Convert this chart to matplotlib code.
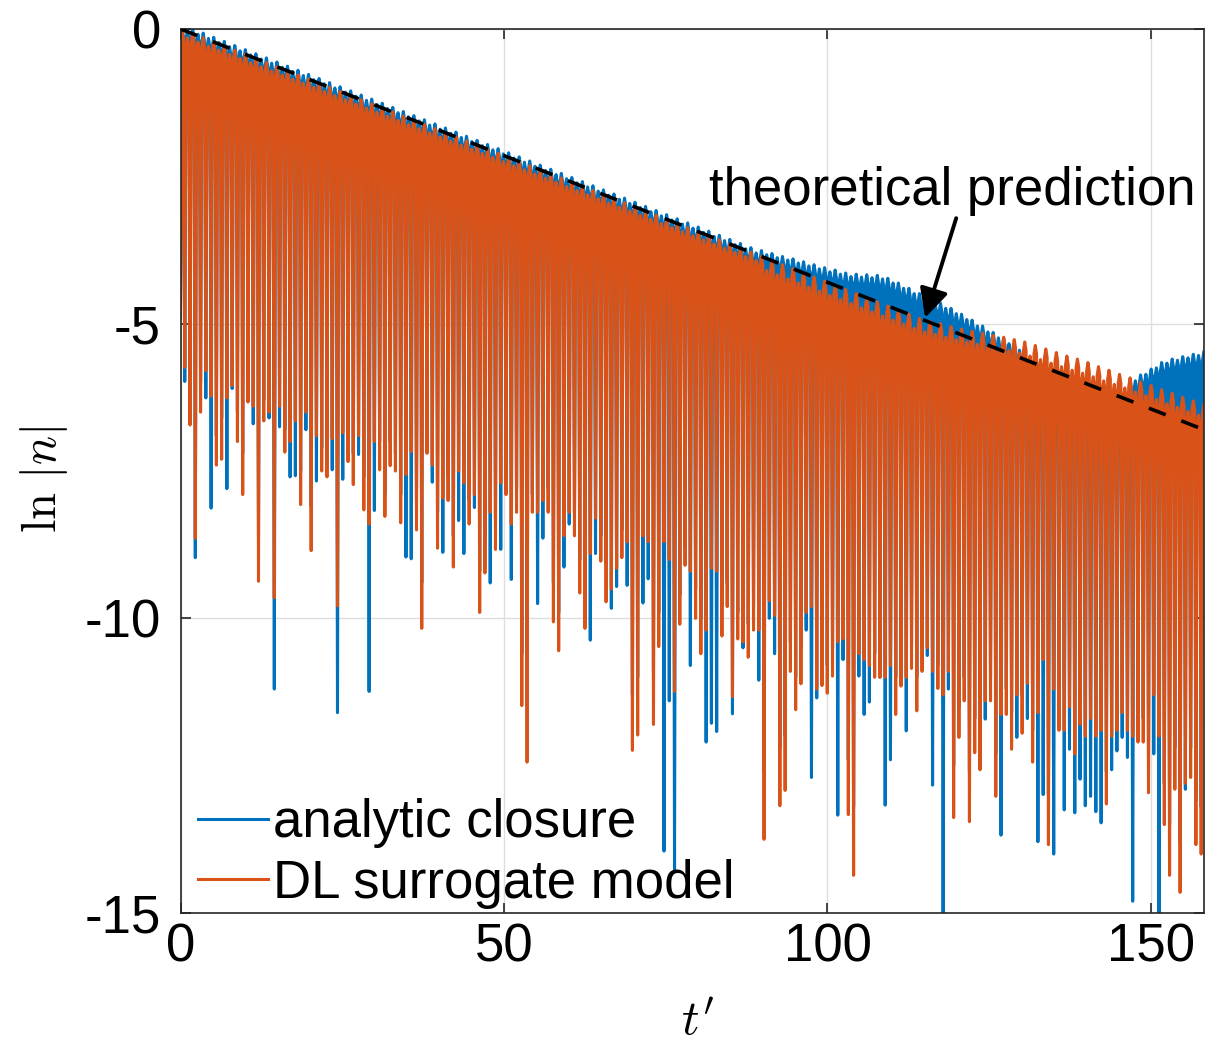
import numpy as np
import matplotlib
matplotlib.use("Agg")
import matplotlib.pyplot as plt

plt.rcParams["font.family"] = ["Liberation Sans", "DejaVu Sans"]
plt.rcParams["mathtext.fontset"] = "cm"
plt.rcParams["axes.unicode_minus"] = False

# zeros of n: first one and spacing between them
t_first_dip = 0.66
dip_step = 0.814
t_end = 158.2

x_ticks = [0, 50, 100, 150]
y_ticks = [-15, -10, -5, 0]
y_tick_labels = ["-15", "-10", "-5", "0"]

# dashed theory line, end points
theory_t = [0.0, 158.2]
theory_ln = [0.0, -6.80]

# analytic closure: value at t=0, local maxima between zeros, minima at zeros
analytic_start = -4.90
analytic_tops = [
    0.00, -0.02, 0.00, -0.09, -0.07, -0.16, -0.14, -0.23, -0.21, -0.30,
    -0.28, -0.37, -0.35, -0.44, -0.42, -0.51, -0.49, -0.58, -0.56, -0.65,
    -0.63, -0.72, -0.70, -0.79, -0.77, -0.86, -0.84, -0.93, -0.91, -1.00,
    -0.98, -1.07, -1.05, -1.14, -1.12, -1.21, -1.19, -1.28, -1.26, -1.35,
    -1.33, -1.42, -1.40, -1.49, -1.47, -1.56, -1.54, -1.63, -1.61, -1.70,
    -1.68, -1.77, -1.75, -1.84, -1.82, -1.91, -1.89, -1.98, -1.96, -2.05,
    -2.03, -2.12, -2.10, -2.19, -2.17, -2.26, -2.24, -2.33, -2.31, -2.40,
    -2.38, -2.47, -2.45, -2.54, -2.52, -2.61, -2.59, -2.68, -2.66, -2.75,
    -2.73, -2.82, -2.80, -2.89, -2.87, -2.96, -2.94, -3.03, -3.01, -3.10,
    -3.08, -3.17, -3.15, -3.24, -3.22, -3.31, -3.29, -3.38, -3.36, -3.45,
    -3.43, -3.52, -3.50, -3.59, -3.57, -3.66, -3.64, -3.73, -3.71, -3.80,
    -3.76, -3.83, -3.81, -3.88, -3.86, -3.92, -3.90, -3.97, -3.95, -4.02,
    -4.00, -4.07, -4.05, -4.12, -4.09, -4.16, -4.14, -4.20, -4.16, -4.21,
    -4.17, -4.22, -4.18, -4.24, -4.23, -4.31, -4.31, -4.40, -4.40, -4.49,
    -4.49, -4.57, -4.57, -4.66, -4.65, -4.74, -4.74, -4.83, -4.84, -4.93,
    -4.94, -5.04, -5.04, -5.14, -5.15, -5.24, -5.25, -5.34, -5.35, -5.45,
    -5.49, -5.57, -5.56, -5.64, -5.63, -5.71, -5.70, -5.78, -5.77, -5.85,
    -5.84, -5.92, -5.91, -5.99, -5.98, -6.06, -6.05, -6.13, -6.12, -6.20,
    -6.03, -5.97, -5.87, -5.86, -5.77, -5.75, -5.66, -5.67, -5.60, -5.62,
    -5.56, -5.58, -5.52, -5.54, -5.48,
]
analytic_dips = [
    -5.98, -6.20, -8.97, -6.00, -6.26, -8.13, -6.90, -6.60, -7.80, -6.10,
    -6.50, -7.20, -6.00, -6.70, -8.60, -6.30, -6.60, -11.20, -6.75, -6.80,
    -7.60, -7.58, -7.50, -6.80, -8.10, -7.67, -7.10, -7.00, -7.48, -11.60,
    -7.64, -6.90, -7.20, -7.22, -7.60, -11.24, -8.17, -7.00, -7.90, -7.00,
    -7.20, -7.90, -8.96, -8.99, -8.00, -9.40, -7.00, -7.69, -8.20, -8.88,
    -7.60, -8.60, -8.34, -8.90, -8.00, -8.12, -9.20, -8.70, -9.40, -8.30,
    -8.83, -7.60, -9.34, -7.80, -10.60, -11.50, -7.90, -9.75, -8.64, -7.80,
    -9.40, -9.90, -9.13, -8.40, -8.20, -9.00, -9.60, -10.37, -8.90, -8.60,
    -9.10, -9.83, -9.46, -8.50, -9.44, -11.30, -11.00, -9.74, -9.33, -10.90,
    -9.90, -13.95, -11.40, -14.27, -9.60, -8.80, -10.80, -9.50, -10.00, -12.10,
    -11.78, -11.92, -9.80, -9.40, -11.62, -9.90, -10.50, -10.10, -9.80, -11.05,
    -12.60, -10.00, -10.60, -12.20, -12.00, -10.40, -11.00, -10.50, -10.20, -12.70,
    -11.35, -11.00, -10.80, -10.50, -13.34, -10.70, -12.40, -13.20, -10.98, -11.63,
    -11.42, -10.60, -11.00, -13.17, -12.40, -11.00, -10.70, -11.91, -10.40, -11.00,
    -10.50, -10.63, -12.83, -10.80, -15.30, -11.20, -12.50, -11.50, -11.00, -12.60,
    -11.70, -11.90, -11.71, -11.00, -12.30, -13.68, -11.20, -11.60, -12.02, -11.30,
    -11.70, -11.90, -13.79, -12.99, -13.00, -14.00, -11.50, -13.25, -12.22, -13.30,
    -12.73, -13.18, -13.02, -13.28, -13.47, -12.60, -12.57, -12.25, -12.02, -12.36,
    -14.80, -11.60, -11.70, -12.30, -12.30, -15.30, -12.80, -13.50, -12.20, -13.80,
    -12.90, -12.20, -13.10, -13.20,
]

# DL surrogate model
dl_start = -4.85
dl_tops = [
    -0.01, -0.15, -0.08, -0.22, -0.15, -0.29, -0.22, -0.36, -0.29, -0.43,
    -0.36, -0.50, -0.43, -0.57, -0.50, -0.64, -0.57, -0.71, -0.64, -0.78,
    -0.71, -0.85, -0.78, -0.92, -0.85, -0.99, -0.92, -1.06, -0.99, -1.13,
    -1.06, -1.20, -1.13, -1.27, -1.20, -1.34, -1.27, -1.41, -1.34, -1.48,
    -1.41, -1.55, -1.48, -1.62, -1.55, -1.69, -1.62, -1.76, -1.69, -1.83,
    -1.76, -1.90, -1.83, -1.97, -1.90, -2.04, -1.97, -2.11, -2.04, -2.18,
    -2.11, -2.25, -2.18, -2.32, -2.25, -2.39, -2.32, -2.46, -2.39, -2.53,
    -2.46, -2.60, -2.53, -2.67, -2.60, -2.74, -2.67, -2.81, -2.74, -2.88,
    -2.81, -2.95, -2.88, -3.02, -2.95, -3.09, -3.02, -3.16, -3.09, -3.23,
    -3.16, -3.30, -3.23, -3.37, -3.30, -3.44, -3.37, -3.51, -3.44, -3.58,
    -3.51, -3.65, -3.58, -3.72, -3.65, -3.79, -3.72, -3.86, -3.79, -3.93,
    -3.86, -4.10, -3.93, -4.17, -4.00, -4.24, -4.07, -4.31, -4.14, -4.38,
    -4.21, -4.45, -4.28, -4.52, -4.35, -4.59, -4.42, -4.66, -4.49, -4.73,
    -4.56, -4.80, -4.63, -4.87, -4.70, -4.94, -4.77, -5.01, -4.84, -5.08,
    -4.91, -5.14, -4.96, -5.18, -5.00, -5.23, -5.05, -5.27, -5.09, -5.31,
    -5.13, -5.35, -5.16, -5.39, -5.20, -5.42, -5.23, -5.46, -5.27, -5.50,
    -5.31, -5.55, -5.37, -5.61, -5.43, -5.67, -5.49, -5.73, -5.55, -5.79,
    -5.60, -5.84, -5.66, -5.90, -5.73, -5.97, -5.79, -6.03, -5.86, -6.09,
    -5.92, -6.16, -5.99, -6.22, -6.05, -6.29, -6.12, -6.36, -6.18, -6.42,
    -6.25, -6.49, -6.31, -6.55, -6.38,
]
dl_dips = [
    -5.74, -6.72, -8.64, -6.50, -5.80, -6.23, -7.40, -7.30, -6.26, -6.05,
    -7.00, -7.90, -6.33, -6.40, -9.37, -6.65, -6.50, -9.65, -6.40, -7.18,
    -7.00, -6.65, -8.07, -6.50, -8.85, -6.90, -7.50, -7.60, -6.95, -9.79,
    -6.85, -7.34, -7.73, -6.90, -8.16, -8.40, -7.00, -7.48, -8.27, -7.41,
    -7.50, -8.38, -7.56, -7.17, -8.50, -10.17, -7.20, -7.40, -8.81, -7.96,
    -8.00, -9.13, -7.50, -7.70, -8.40, -7.90, -9.90, -9.23, -8.20, -8.83,
    -7.70, -7.90, -8.40, -8.20, -11.48, -12.44, -8.20, -8.20, -8.00, -8.20,
    -10.06, -10.55, -8.60, -8.20, -8.60, -9.57, -10.17, -8.90, -8.30, -9.03,
    -9.72, -9.50, -9.15, -8.97, -8.70, -12.24, -11.98, -8.60, -8.70, -11.80,
    -10.48, -8.70, -9.00, -11.24, -10.10, -9.10, -9.20, -10.00, -10.60, -10.20,
    -9.15, -9.20, -10.30, -9.80, -11.33, -10.35, -10.40, -10.66, -10.20, -10.20,
    -13.75, -9.70, -9.95, -13.18, -12.92, -10.90, -11.55, -11.11, -9.90, -9.80,
    -11.20, -11.14, -11.27, -10.98, -10.40, -10.35, -13.33, -14.36, -10.60, -10.70,
    -10.80, -11.00, -11.00, -11.00, -10.80, -11.63, -11.15, -11.00, -10.85, -11.57,
    -10.90, -10.50, -10.90, -11.19, -11.30, -10.90, -13.38, -12.02, -11.40, -13.45,
    -12.28, -12.57, -11.40, -11.40, -13.02, -11.63, -11.63, -12.22, -11.30, -11.95,
    -11.10, -12.44, -11.60, -10.70, -13.84, -11.20, -11.90, -11.90, -11.50, -12.30,
    -11.80, -12.00, -11.70, -12.00, -11.90, -13.15, -12.00, -11.90, -11.60, -11.90,
    -12.00, -12.10, -12.10, -12.96, -11.30, -12.00, -13.50, -14.36, -12.90, -14.65,
    -12.80, -12.70, -13.84, -14.00,
]


def trace(start, tops, dips, shoulder_dt=0.2, shoulder_drop=0.15):
    """Polyline through maxima and minima, with a shoulder on each side of a zero."""
    n = len(dips)
    t_dip = t_first_dip + dip_step * np.arange(n)
    t_top = t_first_dip + dip_step * (np.arange(n + 1) - 0.5)
    t, y = [0.0], [start]
    for k in range(n):
        t += [t_top[k], t_dip[k] - shoulder_dt, t_dip[k], t_dip[k] + shoulder_dt]
        y += [tops[k], tops[k] - shoulder_drop, dips[k], tops[k + 1] - shoulder_drop]
    t.append(t_top[n])
    y.append(tops[n])
    return np.array(t), np.array(y)


fig = plt.figure(figsize=(12.05, 10.43), dpi=100)
ax = fig.add_axes([180.5 / 1205, 130 / 1043, 1023.5 / 1205, 884 / 1043])

t_a, y_a = trace(analytic_start, analytic_tops, analytic_dips)
t_d, y_d = trace(dl_start, dl_tops, dl_dips)
line_a, = ax.plot(t_a, y_a, color="#0072BD", lw=2.2, label="analytic closure", zorder=2)
line_d, = ax.plot(t_d, y_d, color="#D95319", lw=2.2, label="DL surrogate model", zorder=2.1)
ax.plot(theory_t, theory_ln, color="black", lw=2.6, linestyle="--", dashes=(5.0, 4.6), zorder=3)

ax.set_xlim(0, t_end)
ax.set_ylim(-15, 0)
ax.set_xticks(x_ticks)
ax.set_yticks(y_ticks)
ax.set_yticklabels(y_tick_labels)
ax.grid(True, color="#dedede", lw=1.0)
ax.set_axisbelow(True)
ax.tick_params(direction="in", length=7, width=1.2, top=True, right=True,
               labelsize=38, color="#262626", labelcolor="black")
ax.tick_params(axis="x", pad=7)
ax.tick_params(axis="y", pad=14)
for s in ax.spines.values():
    s.set_color("#262626")
    s.set_linewidth(1.2)

ax.set_ylabel(r"$\ln\,|n|$", fontsize=35, va="center")
ax.yaxis.set_label_coords(-0.133, 0.49)
ax.set_xlabel(r"$t'$", fontsize=35, va="center")
ax.xaxis.set_label_coords(0.505, -0.124)

ax.text(119.3, -2.75, "theoretical prediction", fontsize=38, ha="center", va="center")
ax.annotate("", xy=(115.1, -4.90), xytext=(119.9, -3.21),
            arrowprops=dict(arrowstyle="-|>,head_length=0.7,head_width=0.35",
                            color="black", lw=2.8, mutation_scale=25,
                            shrinkA=0, shrinkB=0), zorder=4)

ax.legend(handles=[line_a, line_d], loc="lower left", bbox_to_anchor=(0.017, 0.005),
          frameon=False, fontsize=38, handlelength=1.33, handletextpad=0.1,
          labelspacing=0.2, borderpad=0, borderaxespad=0)

fig.savefig("out.png", dpi=100)
